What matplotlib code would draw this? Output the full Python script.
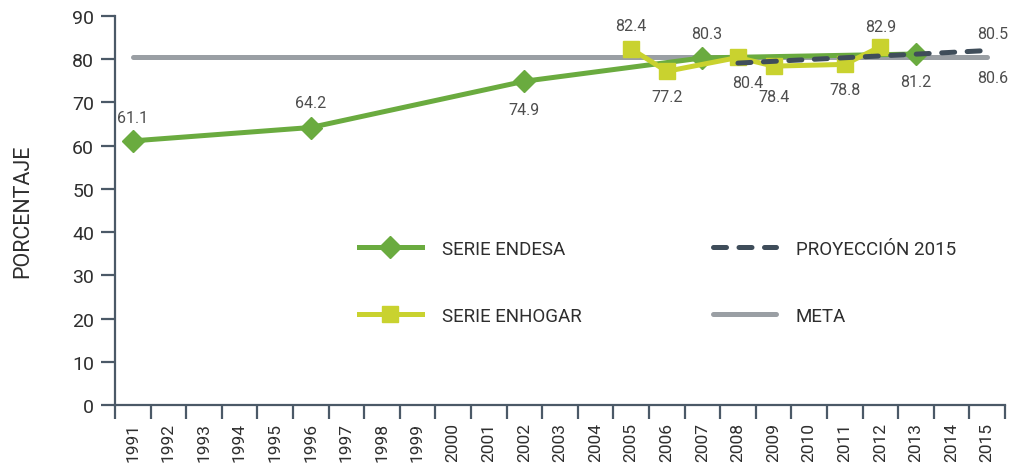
import matplotlib
matplotlib.use('Agg')
import matplotlib.pyplot as plt
import numpy as np

plt.rcParams['font.family'] = ['Roboto', 'DejaVu Sans']

# === Data ===
years = list(range(1991, 2016))

endesa_years = [1991, 1996, 2002, 2007, 2013]
endesa_vals = [61.1, 64.2, 74.9, 80.3, 81.2]

enhogar_years = [2005, 2006, 2008, 2009, 2011, 2012]
enhogar_vals = [82.4, 77.2, 80.4, 78.4, 78.8, 82.9]

proy_years = [2008, 2015]
proy_vals = [79.1, 82.0]

meta_years = [1991, 2015]
meta_vals = [80.6, 80.6]

# label offsets in pixels (dx, dy) for each point
endesa_offsets = [(0, 23), (0, 25), (0, -28), (4, 24), (0, -27)]
enhogar_offsets = [(0, 23), (0, -25), (10, -25), (0, -30), (0, -25), (0, 20)]

# === Styles ===
c_endesa = '#6aab3f'
c_enhogar = '#c9d22f'
c_proy = '#3f4d5a'
c_meta = '#9a9fa4'
c_axis = '#4b5967'
c_text = '#4d4d4d'
c_dark = '#2e2e2e'

def xpos(yrs):
    return [y - years[0] for y in yrs]

fig = plt.figure(figsize=(10.11, 4.64), dpi=100)
ax = fig.add_axes([0.1137, 0.125, 0.8803, 0.8384])

ax.plot(xpos(meta_years), meta_vals, color=c_meta, lw=3.6, solid_capstyle='round',
        label='META', zorder=2)
ax.plot(xpos(endesa_years), endesa_vals, color=c_endesa, lw=3.6, marker='D', ms=11,
        label='SERIE ENDESA', zorder=3)
ax.plot(xpos(enhogar_years), enhogar_vals, color=c_enhogar, lw=3.6, marker='s', ms=12,
        label='SERIE ENHOGAR', zorder=4)
ax.plot(xpos(proy_years), proy_vals, color=c_proy, lw=3.6, dashes=(2.6, 2.5),
        dash_capstyle='round', label='PROYECCIÓN 2015', zorder=5)

# value labels
for yr, v, (dx, dy) in zip(endesa_years, endesa_vals, endesa_offsets):
    ax.annotate(f'{v:.1f}', (yr - years[0], v), xytext=(dx, dy), textcoords='offset pixels',
                ha='center', va='center', fontsize=11.5, color=c_text)
for yr, v, (dx, dy) in zip(enhogar_years, enhogar_vals, enhogar_offsets):
    ax.annotate(f'{v:.1f}', (yr - years[0], v), xytext=(dx, dy), textcoords='offset pixels',
                ha='center', va='center', fontsize=11.5, color=c_text)
ax.annotate('80.5', (proy_years[-1] - years[0], proy_vals[-1]), xytext=(6, 17),
            textcoords='offset pixels', ha='center', va='center', fontsize=11.5, color=c_text)
ax.annotate(f'{meta_vals[-1]:.1f}', (meta_years[-1] - years[0], meta_vals[-1]), xytext=(6, -21),
            textcoords='offset pixels', ha='center', va='center', fontsize=11.5, color=c_text)

# === Axes ===
ax.set_xlim(-0.5, len(years) - 0.5)
ax.set_ylim(0, 90)
ax.set_yticks(np.arange(0, 91, 10))
ax.set_xticks(np.arange(-0.5, len(years), 1.0))
ax.set_xticklabels([])
ax.set_xticks(np.arange(len(years)), minor=True)
ax.set_xticklabels([str(y) for y in years], minor=True, rotation=90)
ax.tick_params(axis='x', which='major', length=10, width=1.6, color=c_axis)
ax.tick_params(axis='x', which='minor', length=0, pad=12, labelsize=12.5, labelcolor=c_dark)
ax.tick_params(axis='y', length=10, width=1.6, color=c_axis, labelsize=14,
               labelcolor=c_dark, pad=5)
for s in ['top', 'right']:
    ax.spines[s].set_visible(False)
for s in ['left', 'bottom']:
    ax.spines[s].set_color(c_axis)
    ax.spines[s].set_linewidth(1.6)
ax.set_ylabel('PORCENTAJE', fontsize=15.5, color=c_dark, labelpad=28)

handles, labels = ax.get_legend_handles_labels()
order = [1, 2, 3, 0]
ax.legend([handles[i] for i in order], [labels[i] for i in order], ncol=2, frameon=False,
          loc='upper left', bbox_to_anchor=(0.255, 0.468), fontsize=13.5, handlelength=3.36,
          handletextpad=1.07, labelspacing=2.6, columnspacing=7.0, labelcolor=c_dark)

fig.savefig('out.png', dpi=100)
